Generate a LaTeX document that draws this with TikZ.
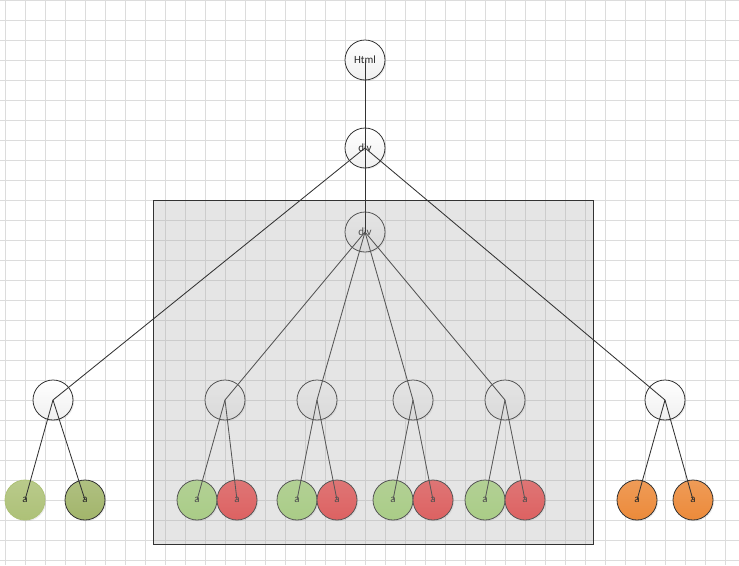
\documentclass[tikz,border=0pt]{standalone}
\usepackage{fontspec}
\setmainfont{Carlito}
\usetikzlibrary{shadows}
\definecolor{gridc}{HTML}{DCDCDC}
\definecolor{edgec}{HTML}{333333}
\definecolor{txt}{HTML}{262626}
\definecolor{olivelt}{HTML}{ADC177}
\definecolor{olivedk}{HTML}{A2B56B}
\definecolor{leafgreen}{HTML}{ABDD79}
\definecolor{leafred}{HTML}{F54444}
\definecolor{leaforange}{HTML}{EC8A3A}
\definecolor{veil}{HTML}{A8A8A8}
\begin{document}
\begin{tikzpicture}[x=1pt,y=-1pt,
  nd/.style={circle, minimum size=40pt, inner sep=0pt, draw=edgec, line width=0.8pt,
    font=\fontsize{11}{12}\selectfont, text=txt,
    drop shadow={opacity=0.15,shadow xshift=1.2pt,shadow yshift=-1.2pt}},
  tag/.style={nd, top color=white, bottom color=black!6},
  leaf/.style={nd, top color=#1!85!white, bottom color=#1},
  link/.style={draw=edgec, line width=0.85pt}]
\useasboundingbox (0,0) rectangle (739,565);

% background grid
\foreach \x in {5,25,...,735} \draw[gridc, line width=0.8pt] (\x,0) -- (\x,565);
\foreach \y in {0,20,...,560} \draw[gridc, line width=0.8pt] (0,\y) -- (739,\y);

% element nodes
\node[tag] (html) at (365,60) {Html};
\node[tag] (div)  at (365,148) {div};
\node[tag] (idiv) at (365,232) {div};

\node[tag] (l)  at (53,400) {};
\node[tag] (m1) at (225,400) {};
\node[tag] (m2) at (317,400) {};
\node[tag] (m3) at (413,400) {};
\node[tag] (m4) at (505,400) {};
\node[tag] (r)  at (665,400) {};

% anchor leaves
\node[leaf=olivelt, draw=olivelt] (la) at (25,500) {a};
\node[leaf=olivedk] (lb) at (85,500) {a};
\node[leaf=leafgreen] (m1a) at (197,500) {a};
\node[leaf=leafred]   (m1b) at (237,500) {a};
\node[leaf=leafgreen] (m2a) at (297,500) {a};
\node[leaf=leafred]   (m2b) at (337,500) {a};
\node[leaf=leafgreen] (m3a) at (393,500) {a};
\node[leaf=leafred]   (m3b) at (433,500) {a};
\node[leaf=leafgreen] (m4a) at (485,500) {a};
\node[leaf=leafred]   (m4b) at (525,500) {a};
\node[leaf=leaforange] (ra) at (637,500) {a};
\node[leaf=leaforange] (rb) at (693,500) {a};

% connectors below the highlight
\foreach \m in {m1,m2,m3,m4} {
  \draw[link] (idiv.center) -- (\m.center);
  \draw[link] (\m.center) -- (\m a.center);
  \draw[link] (\m.center) -- (\m b.center);
}
\draw[link] (l.center) -- (la.center);
\draw[link] (l.center) -- (lb.center);
\draw[link] (r.center) -- (ra.center);
\draw[link] (r.center) -- (rb.center);

% translucent highlight box
\node[draw=edgec, line width=0.9pt, fill=veil, fill opacity=0.3,
      minimum width=440pt, minimum height=344pt, inner sep=0pt,
      anchor=north west] (box) at (153,200) {};

% connectors above the highlight
\draw[link] (html.center) -- (div.center);
\draw[link] (div.center) -- (idiv.center);
\draw[link] (div.center) -- (l.center);
\draw[link] (div.center) -- (r.center);
\end{tikzpicture}
\end{document}
